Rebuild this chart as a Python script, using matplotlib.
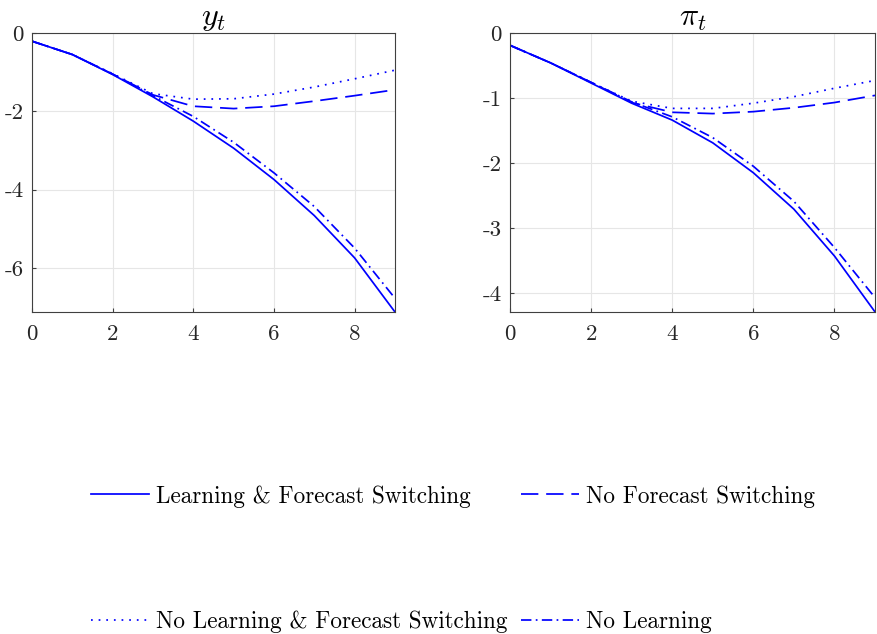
import matplotlib
matplotlib.use("Agg")
import matplotlib.pyplot as plt

plt.rcParams["font.family"] = ["cmr10", "DejaVu Serif"]
plt.rcParams["mathtext.fontset"] = "cm"
plt.rcParams["axes.unicode_minus"] = False
plt.rcParams["axes.formatter.use_mathtext"] = False

periods = list(range(10))

# output gap y_t
y_learn_fs = [-0.21, -0.55, -1.06, -1.63, -2.25, -2.94, -3.74, -4.66, -5.74, -7.12]
y_no_fs = [-0.21, -0.55, -1.05, -1.58, -1.87, -1.93, -1.87, -1.74, -1.60, -1.45]
y_no_learn_fs = [-0.21, -0.55, -1.04, -1.55, -1.69, -1.68, -1.56, -1.38, -1.17, -0.95]
y_no_learn = [-0.21, -0.55, -1.05, -1.60, -2.13, -2.79, -3.57, -4.43, -5.49, -6.77]

# inflation pi_t
pi_learn_fs = [-0.19, -0.46, -0.77, -1.08, -1.34, -1.69, -2.15, -2.71, -3.43, -4.29]
pi_no_fs = [-0.19, -0.46, -0.76, -1.07, -1.22, -1.24, -1.21, -1.15, -1.07, -0.96]
pi_no_learn_fs = [-0.19, -0.46, -0.76, -1.05, -1.16, -1.16, -1.08, -0.98, -0.85, -0.73]
pi_no_learn = [-0.19, -0.46, -0.76, -1.06, -1.29, -1.61, -2.05, -2.59, -3.30, -4.07]

labels = ["Learning & Forecast Switching", "No Forecast Switching",
          "No Learning & Forecast Switching", "No Learning"]
styles = ["-", (0, (10, 4.5)), (0, (1, 3.4)), (0, (6, 2.5, 1, 2.5))]

panels = [
    ("$y_t$", [y_learn_fs, y_no_fs, y_no_learn_fs, y_no_learn], [-6, -4, -2, 0]),
    (r"$\pi_t$", [pi_learn_fs, pi_no_fs, pi_no_learn_fs, pi_no_learn], [-4, -3, -2, -1, 0]),
]

fig = plt.figure(figsize=(8.78, 6.34), dpi=100)
boxes = [[0.0364, 0.508, 0.4134, 0.44], [0.5809, 0.508, 0.4157, 0.44]]

handles = []
for box, (title, series, yticks) in zip(boxes, panels):
    ax = fig.add_axes(box)
    handles = []
    for vals, ls in zip(series, styles):
        h, = ax.plot(periods, vals, color="blue", linestyle=ls, linewidth=1.25)
        handles.append(h)
    ymin = min(min(v) for v in series)
    ax.set_xlim(0, 9)
    ax.set_ylim(ymin, 0)
    ax.set_xticks([0, 2, 4, 6, 8])
    ax.set_yticks(yticks)
    ax.set_yticklabels([str(t) for t in yticks])
    ax.set_title(title, fontsize=23, pad=5)
    ax.grid(True, color="#e6e6e6", linewidth=0.8)
    ax.set_axisbelow(True)
    for s in ax.spines.values():
        s.set_color("#404040")
        s.set_linewidth(0.8)
    ax.tick_params(direction="in", length=3, color="#404040", labelsize=16.5,
                   labelcolor="#262626")
    ax.tick_params(axis="x", pad=9)
    ax.tick_params(axis="y", pad=6)

# legend is filled column by column, so interleave to get rows (0,1) and (2,3)
order = [0, 2, 1, 3]
fig.legend([handles[i] for i in order], [labels[i] for i in order],
           loc="upper left", bbox_to_anchor=(0.1036, 0.235), ncol=2,
           frameon=False, fontsize=16.7, labelspacing=4.45, handlelength=2.5,
           handletextpad=0.3, columnspacing=0.6, borderaxespad=0, borderpad=0)

fig.savefig("out.png", dpi=100)
